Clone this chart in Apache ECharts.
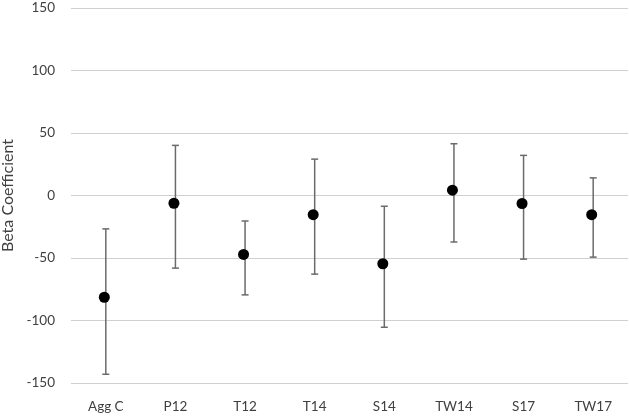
<!DOCTYPE html>
<html><head><meta charset="utf-8">
<script src="https://cdn.jsdelivr.net/npm/echarts@6/dist/echarts.min.js"></script>
<style>html,body{margin:0;padding:0;background:#fff}#c{width:629px;height:416px}</style>
</head><body><div id="c"></div>
<script>
const categories = ['Agg C','P12','T12','T14','S14','TW14','S17','TW17'];
const beta = [-81.4, -6.2, -47.1, -15.3, -54.6, 4.3, -6.4, -15.3];
const upper = [-26.7, 40.1, -20.4, 29.1, -8.6, 41.4, 32.1, 14.1];
const lower = [-143, -58.1, -79.5, -62.9, -105.4, -37.2, -50.9, -49.3];
const yTicks = [-150, -100, -50, 0, 50, 100, 150];

const chart = echarts.init(document.getElementById('c'));
const font = 'Lato, "Open Sans", sans-serif';
chart.setOption({
  animation: false,
  grid: {left: 71, right: 1, top: 8, bottom: 33, containLabel: false, outerBoundsMode: 'none'},
  xAxis: {
    type: 'category', data: categories,
    axisLine: {show: false}, axisTick: {show: false},
    axisLabel: {color: '#404040', fontFamily: font, fontSize: 13.5, margin: 17}
  },
  yAxis: {
    type: 'value', min: yTicks[0], max: yTicks[yTicks.length-1], interval: 50,
    name: 'Beta Coefficient', nameLocation: 'middle', nameGap: 51,
    nameTextStyle: {color: '#404040', fontFamily: font, fontSize: 16},
    axisLine: {show: false}, axisTick: {show: false},
    axisLabel: {color: '#404040', fontFamily: font, fontSize: 13.5, margin: 16},
    splitLine: {lineStyle: {color: '#d0d0d0', width: 1.2}}
  },
  series: [
    {
      type: 'custom',
      data: categories.map((c, i) => [i, lower[i], upper[i]]),
      renderItem: function (params, api) {
        const x = api.coord([api.value(0), 0])[0];
        const yl = api.coord([api.value(0), api.value(1)])[1];
        const yu = api.coord([api.value(0), api.value(2)])[1];
        const hw = 3.5;
        const st = {stroke: '#6b6b6b', lineWidth: 1.5};
        return {type: 'group', children: [
          {type: 'line', shape: {x1: x, y1: yu, x2: x, y2: yl}, style: st},
          {type: 'line', shape: {x1: x - hw, y1: yu, x2: x + hw, y2: yu}, style: st},
          {type: 'line', shape: {x1: x - hw, y1: yl, x2: x + hw, y2: yl}, style: st}
        ]};
      },
      z: 1
    },
    {
      type: 'scatter', data: beta, symbol: 'circle', symbolSize: 11,
      symbolOffset: [-1.5, 0],
      itemStyle: {color: '#000', opacity: 1}, z: 2
    }
  ]
});
</script></body></html>
